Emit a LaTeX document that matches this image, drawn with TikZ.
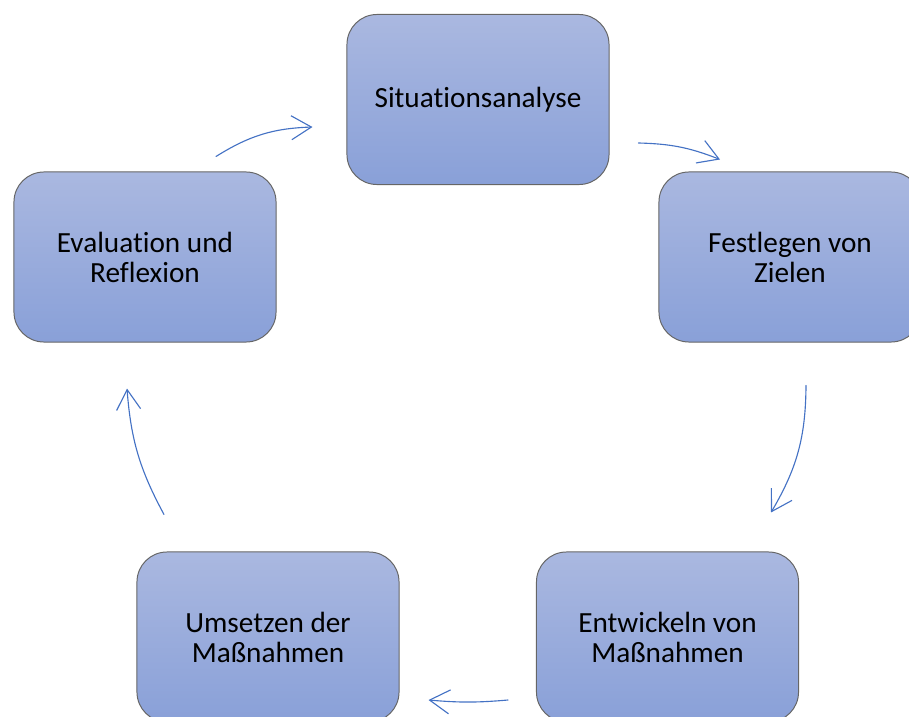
\documentclass[tikz,border=0pt]{standalone}
\usepackage{fontspec}
\setmainfont{Carlito}[Ligatures={NoCommon}]
\usetikzlibrary{arrows.meta}
\definecolor{boxtop}{RGB}{170,184,224}
\definecolor{boxbot}{RGB}{137,160,216}
\definecolor{flowblue}{RGB}{68,114,196}
\begin{document}
\begin{tikzpicture}[x=0.025cm, y=-0.025cm, line join=round, line cap=round,
	box/.style={rectangle, rounded corners=0.75cm, draw=black!60, line width=0.7pt,
		top color=boxtop, bottom color=boxbot, minimum width=6.55cm, minimum height=4.25cm,
		align=center, font=\fontsize{20.8}{21.4}\selectfont},
	flow/.style={->, draw=flowblue, line width=0.8pt, >={Straight Barb[length=0.5cm, width=0.6cm, line width=0.8pt]}}]
	\useasboundingbox (0,0) rectangle (909,717);
	\clip (0,0) rectangle (909,717);
	\node[box] (sit) at (478,99.5) {Situationsanalyse};
	\node[box] (fest) at (790,257) {Festlegen von\\Zielen};
	\node[box] (ent) at (667.5,637) {Entwickeln von\\Maßnahmen};
	\node[box] (ums) at (268,637) {Umsetzen der\\Maßnahmen};
	\node[box] (eval) at (145,257) {Evaluation und\\Reflexion};
	\draw[flow] ([shift={(71,-15)}]eval.north) to[bend left=15] ([shift={(-34,27.5)}]sit.west);
	\draw[flow] ([shift={(29,43.5)}]sit.east) to[bend left=10] ([shift={(-70,-12)}]fest.north);
	\draw[flow] ([shift={(16,43)}]fest.south) to[bend left=15] ([shift={(103.5,-39)}]ent.north);
	\draw[flow] ([shift={(-28,63)}]ent.west) to[bend left=5] ([shift={(29,63)}]ums.east);
	\draw[flow] ([shift={(-104,-37)}]ums.north) to[bend left=12] ([shift={(-18,46)}]eval.south);
\end{tikzpicture}
\end{document}
